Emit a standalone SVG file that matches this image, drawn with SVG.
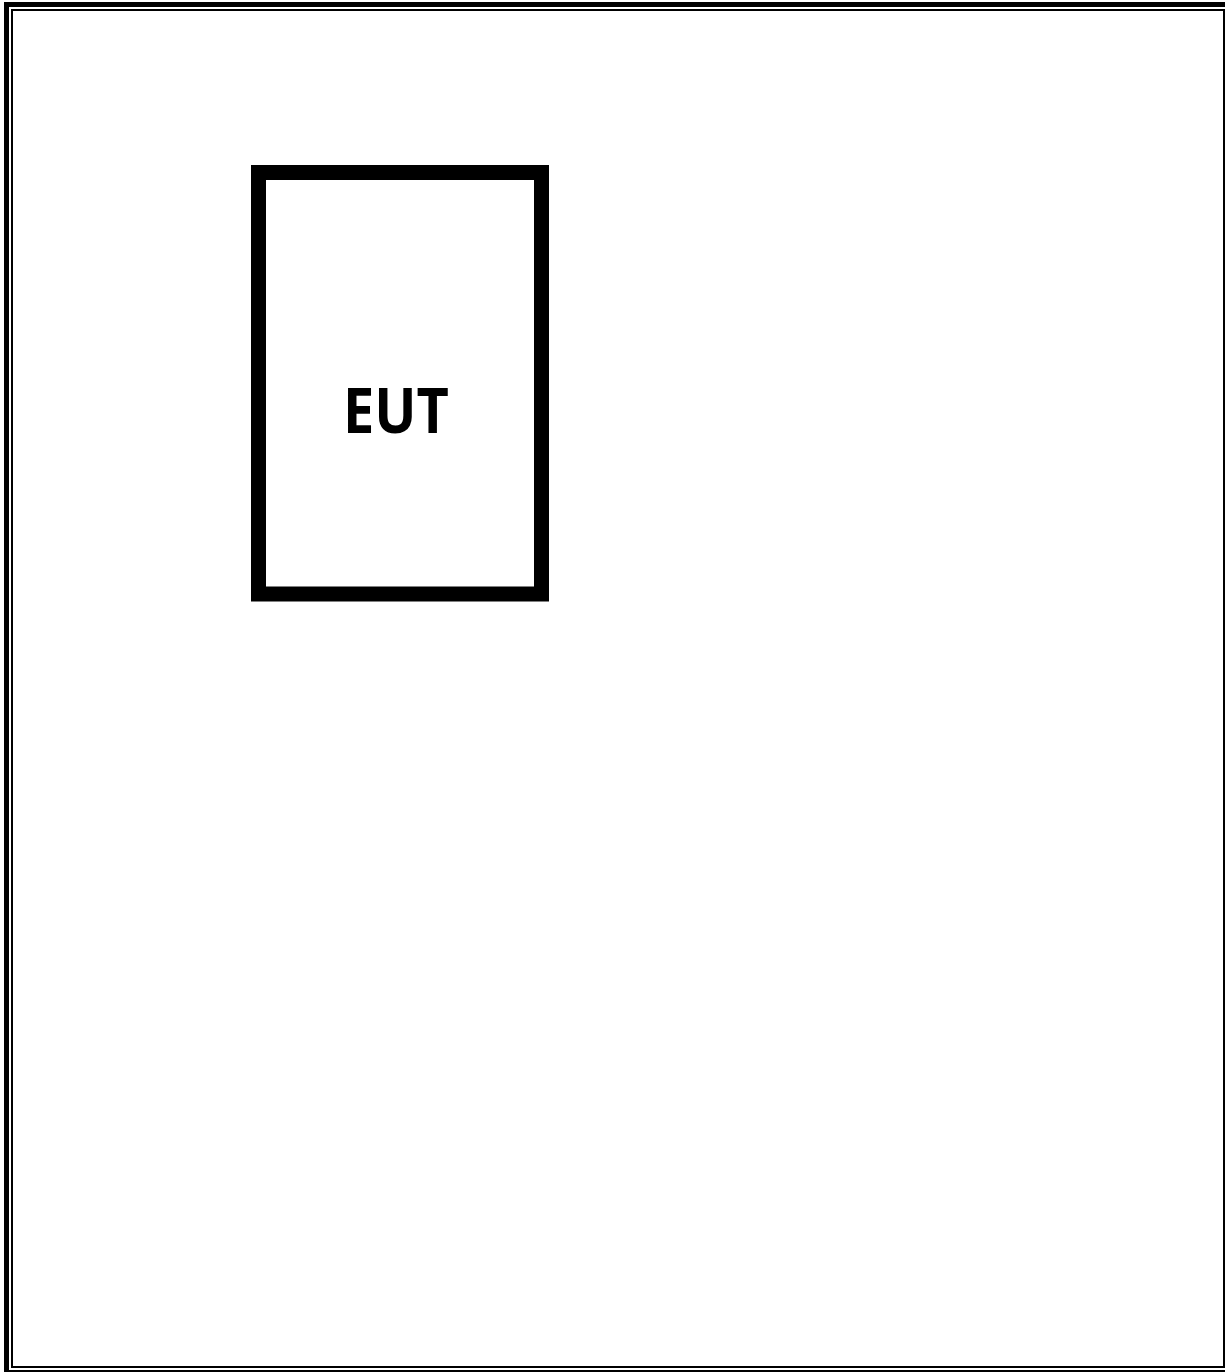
<svg xmlns="http://www.w3.org/2000/svg" width="1225" height="1372" viewBox="0 0 1225 1372">
  <style>
    .frame { fill: none; stroke: #000; }
    .node { fill: #fff; stroke: #000; stroke-width: 15; }
    .label { font-family: "Open Sans", "Liberation Sans", sans-serif; font-weight: bold; fill: #000; }
  </style>
  <rect width="1225" height="1372" fill="#fff"/>
  <g id="border">
    <rect class="frame" x="6.5" y="4.5" width="1240" height="1368" stroke-width="5"/>
    <rect class="frame" x="12" y="10" width="1212" height="1357" stroke-width="2"/>
  </g>
  <g id="eut">
    <rect class="node" x="258.5" y="172.5" width="283" height="421.5"/>
    <text class="label" x="396" y="433" font-size="63" text-anchor="middle" textLength="106" lengthAdjust="spacingAndGlyphs">EUT</text>
  </g>
  <g id="connectors"></g>
</svg>
